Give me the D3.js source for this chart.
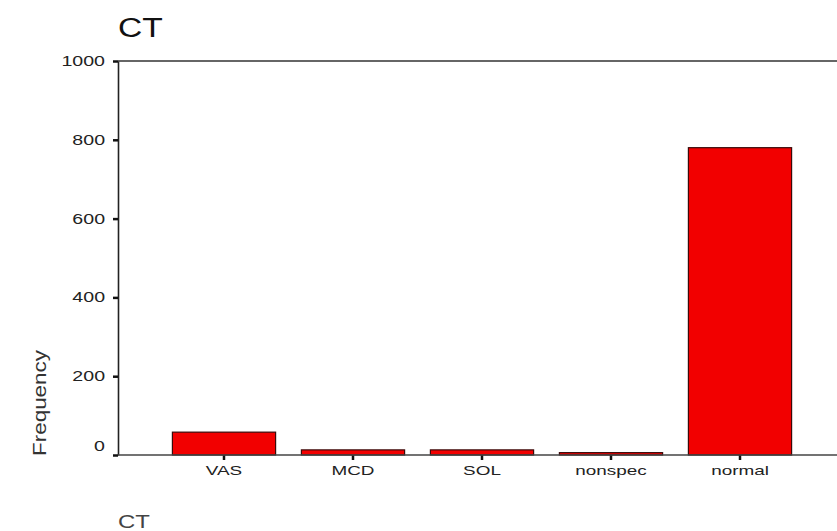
<!DOCTYPE html>
<html>
<head>
<meta charset="utf-8">
<script src="https://cdn.jsdelivr.net/npm/d3@7"></script>
<style>
  body { margin: 0; background: #fff; }
  svg { display: block; font-family: "Liberation Sans", Arial, sans-serif; }
</style>
</head>
<body>
<div id="chart"></div>
<script>
const categories = ["VAS", "MCD", "SOL", "nonspec", "normal"];
const counts = [58, 13, 13, 6, 780];
const yTicks = [0, 200, 400, 600, 800, 1000];

const width = 837;
const height = 531;
const margin = { top: 61, right: 0, bottom: 75, left: 118 };
// the original image is stretched sideways, so text is widened too
const stretch = 1.4;

const svg = d3
  .select("#chart")
  .append("svg")
  .attr("width", width)
  .attr("height", height);

const x = d3
  .scaleBand()
  .domain(categories)
  .range([146.6, 817.4])
  .paddingInner(0.2)
  .paddingOuter(0.2);

const y = d3
  .scaleLinear()
  .domain([0, 1000])
  .range([height - margin.bottom - 1, margin.top]);

// title
svg
  .append("text")
  .attr("transform", "translate(118,37) scale(1.2,1)")
  .attr("font-size", 28)
  .attr("fill", "#111")
  .text("CT");

// top frame line
svg
  .append("line")
  .attr("x1", margin.left)
  .attr("x2", width)
  .attr("y1", y(1000))
  .attr("y2", y(1000))
  .attr("stroke", "#333")
  .attr("stroke-width", 1.3);

// bars
svg
  .append("g")
  .selectAll("rect")
  .data(categories)
  .join("rect")
  .attr("x", (d) => x(d))
  .attr("width", x.bandwidth())
  .attr("y", (d, i) => y(counts[i]))
  .attr("height", (d, i) => y(0) - y(counts[i]))
  .attr("fill", "#f20000")
  .attr("stroke", "#3a0a0a")
  .attr("stroke-width", 1.2);

// y axis
svg
  .append("g")
  .attr("transform", `translate(${margin.left},0)`)
  .call(d3.axisLeft(y).tickValues(yTicks).tickFormat(d3.format("d")).tickSize(5).tickSizeOuter(0))
  .call((g) => g.select(".domain").attr("stroke", "#222").attr("stroke-width", 1.6))
  .call((g) => g.selectAll(".tick line").attr("stroke", "#111").attr("stroke-width", 2.5))
  .call((g) =>
    g
      .selectAll(".tick text")
      .attr("font-size", 14)
      .attr("fill", "#222")
      .attr("font-family", "Liberation Sans, Arial, sans-serif")
      .attr("x", -13 / stretch)
      .attr("transform", `scale(${stretch},1)`)
      .attr("dy", (d) => (d === 0 ? "-0.35em" : "0.32em"))
  );

// x axis
svg
  .append("g")
  .attr("transform", `translate(0,${y(0)})`)
  .call(d3.axisBottom(x).tickSize(5).tickSizeOuter(0))
  .call((g) => g.select(".domain").remove())
  .call((g) => g.selectAll(".tick line").attr("stroke", "#111").attr("stroke-width", 2.5))
  .call((g) =>
    g
      .selectAll(".tick text")
      .attr("font-size", 13.5)
      .attr("fill", "#222")
      .attr("font-family", "Liberation Sans, Arial, sans-serif")
      .attr("y", 20)
      .attr("dy", 0)
      .attr("transform", `scale(${stretch},1)`)
  );

// baseline
svg
  .append("line")
  .attr("x1", margin.left)
  .attr("x2", width)
  .attr("y1", y(0))
  .attr("y2", y(0))
  .attr("stroke", "#444")
  .attr("stroke-width", 1.3);

// y label
svg
  .append("text")
  .attr("transform", `translate(46,403) rotate(-90)`)
  .attr("text-anchor", "middle")
  .attr("font-size", 18)
  .attr("fill", "#333")
  .attr("textLength", 106)
  .attr("lengthAdjust", "spacingAndGlyphs")
  .text("Frequency");

// x label
svg
  .append("text")
  .attr("transform", `translate(118,528) scale(1.33,1)`)
  .attr("font-size", 18)
  .attr("fill", "#444")
  .text("CT");
</script>
</body>
</html>
